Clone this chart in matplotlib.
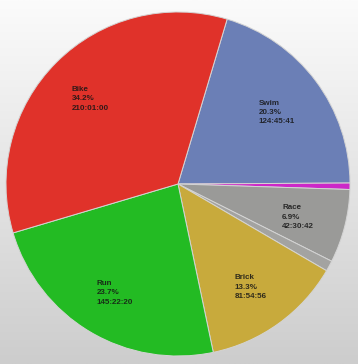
import numpy as np
import matplotlib
matplotlib.use("Agg")
import matplotlib.pyplot as plt
from matplotlib.colors import LinearSegmentedColormap

categories = ["Swim", "Other1", "Race", "Other2", "Brick", "Run", "Bike"]
percents = [20.3, 0.6, 6.9, 1.0, 13.3, 23.7, 34.2]
durations = ["124:45:41", "", "42:30:42", "", "81:54:56", "145:22:20", "210:01:00"]
show_label = [True, False, True, False, True, True, True]
colors = ["#6b7fb6", "#cc28c8", "#9a9a98", "#a3a3a1", "#c8aa3c", "#23bb23", "#e0322a"]

W, H = 358, 364
fig = plt.figure(figsize=(W / 100, H / 100), dpi=100)

# background gradient
bg = fig.add_axes([0, 0, 1, 1])
grad = np.linspace(0, 1, 256).reshape(-1, 1)
cmap = LinearSegmentedColormap.from_list("bg", ["#fbfbfb", "#cdcdcd"])
bg.imshow(grad, aspect="auto", cmap=cmap, extent=[0, 1, 0, 1], origin="upper")
bg.set_axis_off()

cx, cy, R = 178, 184, 172
ax = fig.add_axes([(cx - R) / W, (H - cy - R) / H, 2 * R / W, 2 * R / H])
wedges, _ = ax.pie(percents, colors=colors, startangle=73.4, counterclock=False,
                   radius=1.0,
                   wedgeprops=dict(edgecolor="#d4d4d4", linewidth=0.7))
ax.set_xlim(-1, 1)
ax.set_ylim(-1, 1)
ax.set_aspect("equal")
ax.set_axis_off()

for w, name, p, d, show in zip(wedges, categories, percents, durations, show_label):
    if not show:
        continue
    mid = np.deg2rad((w.theta1 + w.theta2) / 2)
    r = 0.72
    x, y = r * np.cos(mid), r * np.sin(mid)
    ax.text(x, y - 0.015, f"{name}\n{p:.1f}%\n{d}", ha="center", va="center",
            multialignment="left", fontsize=5.8, fontweight="bold",
            family="Liberation Sans",
            color="#151515", alpha=0.85, linespacing=1.45)

fig.savefig("out.png", dpi=100)
